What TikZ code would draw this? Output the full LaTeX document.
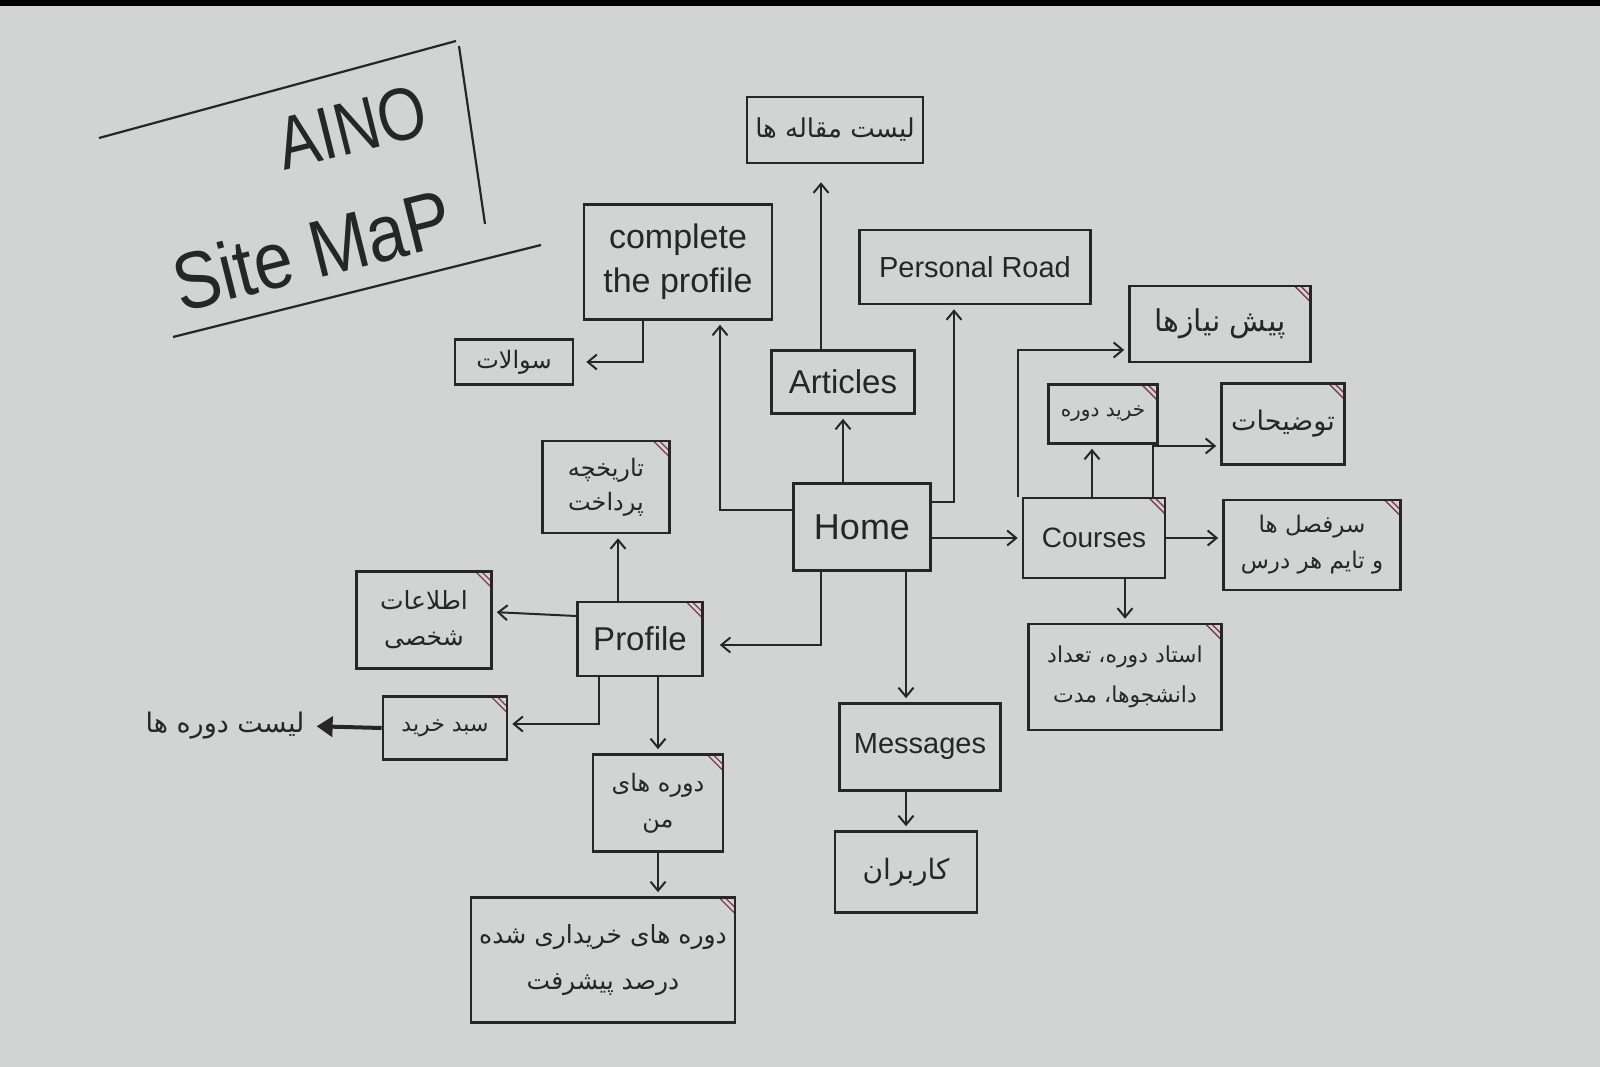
\documentclass[tikz,border=0pt]{standalone}
\usepackage{fontspec}
\setmainfont{Liberation Sans}
\newfontfamily\farsi[Script=Arabic]{DejaVu Sans}
\TeXXeTstate=1
\usetikzlibrary{arrows.meta,calc}
\newcommand{\fa}[1]{{\farsi\beginR #1\endR}}
\definecolor{paper}{RGB}{210,212,211}
\definecolor{ink}{RGB}{38,38,38}
\definecolor{tickcol}{RGB}{125,60,80}
\tikzset{
  box/.style 2 args={draw=ink, line width=2.6pt, minimum width=#1, minimum height=#2, inner sep=2pt, align=center, text=ink},
  corner/.style={path picture={
    \draw[tickcol, line width=1.4pt] ([xshift=-16pt]path picture bounding box.north east) -- ([yshift=-16pt]path picture bounding box.north east);
    \draw[tickcol, line width=1.4pt] ([xshift=-10pt]path picture bounding box.north east) -- ([yshift=-10pt]path picture bounding box.north east);}},
  arr/.style={draw=ink, line width=2pt, shorten >=4pt, -{Straight Barb[length=9pt,width=15pt,line width=2pt]}},
  fatarr/.style={draw=ink, line width=4pt, shorten >=10pt, -{Triangle[length=16pt,width=20pt]}}
}
\begin{document}
\begin{tikzpicture}[x=1pt,y=-1pt]
\useasboundingbox (0,0) rectangle (1600,1067);
\fill[paper] (0,0) rectangle (1600,1067);
\fill[black] (0,0) rectangle (1600,6);

% title
\draw[ink, line width=2.2pt] (99,138) -- (456,41);
\draw[ink, line width=2.2pt] (459,46) -- (485,224);
\draw[ink, line width=2.2pt] (173,337) -- (541,245);
\node[rotate=14, yscale=1.2, transform shape, inner sep=0pt, text=ink, font=\fontsize{62pt}{68pt}\selectfont] (aino) at (352,127) {AINO};
\node[rotate=14, yscale=1.15, transform shape, inner sep=0pt, text=ink, font=\fontsize{70pt}{78pt}\selectfont] (sitemap) at (312,250) {Site MaP};

% nodes
\node[box={176pt}{66pt}, font=\fontsize{26pt}{32pt}\selectfont] (artlist) at (835,130) {\fa{لیست مقاله ها}};
\node[box={188pt}{115pt}, font=\fontsize{34pt}{44pt}\selectfont] (complete) at (678,262) {complete\\the profile};
\node[box={231pt}{74pt}, font=\fontsize{29pt}{34pt}\selectfont] (personal) at (975,267) {Personal Road};
\node[box={181pt}{76pt}, corner, font=\fontsize{30pt}{36pt}\selectfont] (prereq) at (1220,324) {\fa{پیش نیازها}};
\node[box={118pt}{45pt}, font=\fontsize{24pt}{30pt}\selectfont] (questions) at (514,362) {\fa{سوالات}};
\node[box={143pt}{63pt}, font=\fontsize{33pt}{40pt}\selectfont] (articles) at (843,382) {Articles};
\node[box={109pt}{59pt}, corner, font=\fontsize{20pt}{26pt}\selectfont] (buy) at (1103,414) {\fa{خرید دوره}};
\node[box={123pt}{81pt}, corner, font=\fontsize{27pt}{32pt}\selectfont] (desc) at (1283,424) {\fa{توضیحات}};
\node[box={127pt}{92pt}, corner, font=\fontsize{24pt}{34pt}\selectfont] (payhist) at (606,487) {\fa{تاریخچه}\\\fa{پرداخت}};
\node[box={137pt}{87pt}, font=\fontsize{36pt}{42pt}\selectfont] (home) at (862,527) {Home};
\node[box={142pt}{80pt}, corner, font=\fontsize{28pt}{34pt}\selectfont] (courses) at (1094,538) {Courses};
\node[box={177pt}{90pt}, corner, font=\fontsize{23pt}{36pt}\selectfont] (chapters) at (1312,545) {\fa{سرفصل ها}\\\fa{و تایم هر درس}};
\node[box={135pt}{97pt}, corner, font=\fontsize{25pt}{36pt}\selectfont] (pinfo) at (424,620) {\fa{اطلاعات}\\\fa{شخصی}};
\node[box={125pt}{74pt}, corner, font=\fontsize{33pt}{40pt}\selectfont] (profile) at (640,639) {Profile};
\node[box={193pt}{106pt}, corner, font=\fontsize{22pt}{40pt}\selectfont] (teacher) at (1125,677) {\fa{استاد دوره، تعداد}\\\fa{دانشجوها، مدت}};
\node[box={124pt}{63pt}, corner, font=\fontsize{22pt}{28pt}\selectfont] (cart) at (445,728) {\fa{سبد خرید}};
\node[text=ink, inner sep=2pt, font=\fontsize{27pt}{32pt}\selectfont] (courselist) at (225,726) {\fa{لیست دوره ها}};
\node[box={161pt}{87pt}, font=\fontsize{29pt}{34pt}\selectfont] (messages) at (920,747) {Messages};
\node[box={130pt}{97pt}, corner, font=\fontsize{24pt}{36pt}\selectfont] (mycourses) at (658,803) {\fa{دوره های}\\\fa{من}};
\node[box={142pt}{81pt}, font=\fontsize{28pt}{34pt}\selectfont] (users) at (906,872) {\fa{کاربران}};
\node[box={264pt}{125pt}, corner, font=\fontsize{25pt}{46pt}\selectfont] (purchased) at (603,960) {\fa{دوره های خریداری شده}\\\fa{درصد پیشرفت}};

% connectors
\draw[arr, shorten >=18pt] ($(articles.north)+(-22,0)$) -- ($(articles.north |- artlist.south)+(-22,0)$);
\draw[arr] ($(home.west)+(0,-17)$) -| ($(complete.south)+(42,0)$);
\draw[arr] (home.north -| articles.south) -- (articles.south);
\draw[arr] ($(home.east)+(0,-25)$) -| ($(personal.south)+(-21,0)$);
\draw[arr] (home.east |- courses.west) -- (courses.west);
\draw[arr] ($(messages.north |- home.south)+(-14,0)$) -- ($(messages.north)+(-14,0)$);
\draw[arr, shorten >=16pt] ($(home.south)+(-41,0)$) |- ($(profile.east)+(0,6)$);
\draw[arr, shorten >=12pt] ($(complete.south)+(-35,0)$) |- (questions.east);
\draw[arr] ($(courses.north west)+(-4,0)$) |- ($(prereq.west)+(0,26)$);
\draw[arr] ($(buy.south |- courses.north)+(-11,0)$) -- ($(buy.south)+(-11,0)$);
\draw[arr] ($(courses.north)+(59,0)$) |- ($(desc.west)+(0,22)$);
\draw[arr] (courses.east) -- (courses.east -| chapters.west);
\draw[arr] (courses.south -| teacher.north) -- (teacher.north);
\draw[arr] ($(profile.north)+(-22,0)$) -- ($(payhist.south)+(12,0)$);
\draw[arr] ($(profile.west)+(0,-23)$) -- ($(pinfo.east)+(0,-8)$);
\draw[arr] ($(profile.south)+(-41,0)$) |- ($(cart.east)+(0,-4)$);
\draw[fatarr] (cart.west) -- (courselist.east);
\draw[arr] (profile.south -| mycourses.north) -- (mycourses.north);
\draw[arr] (mycourses.south) -- (mycourses.south |- purchased.north);
\draw[arr] (messages.south -| users.north) -- (users.north);
\end{tikzpicture}
\end{document}
